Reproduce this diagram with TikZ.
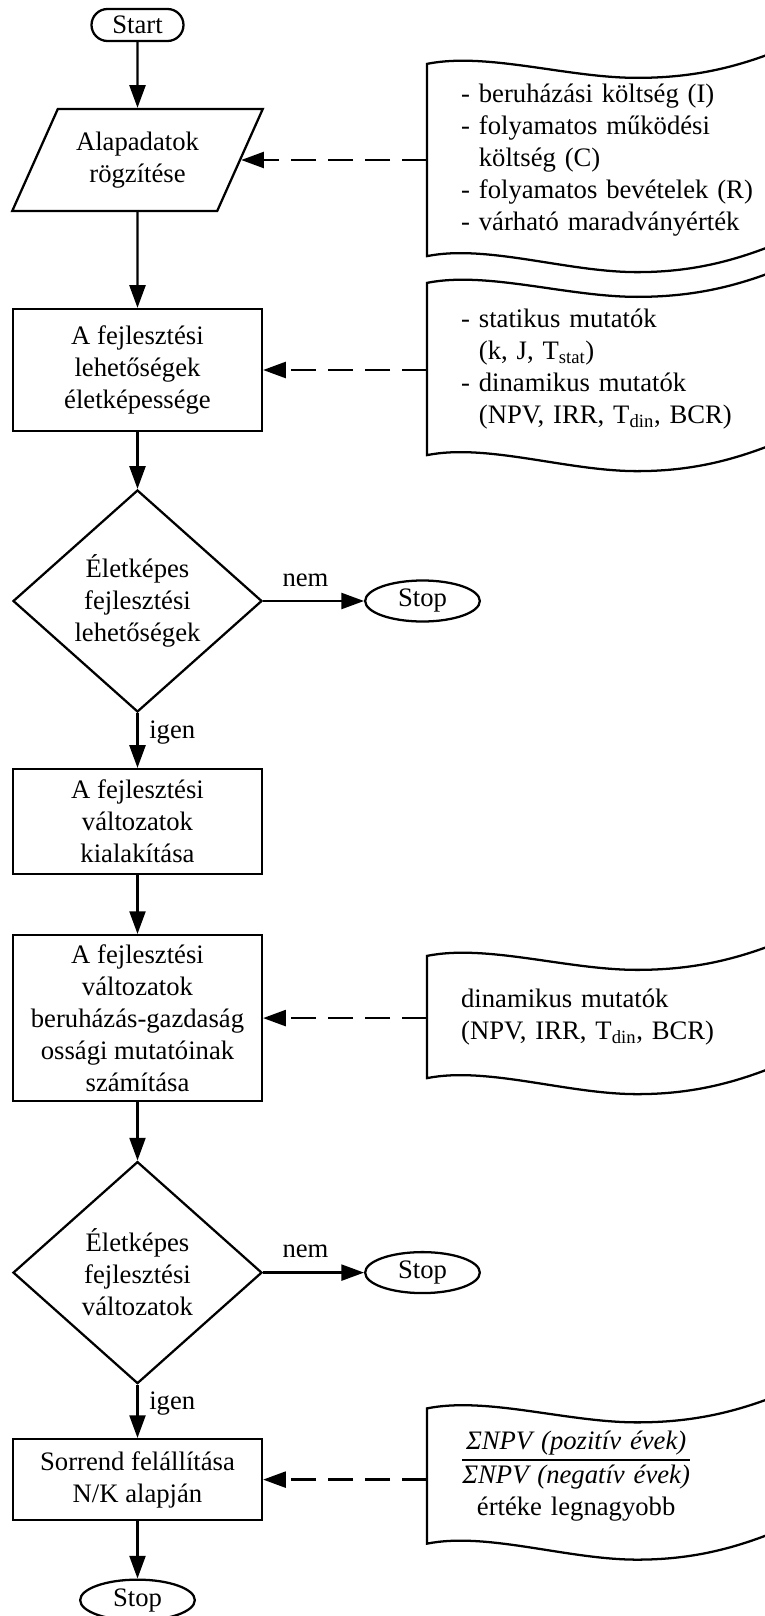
\documentclass[tikz,border=0pt]{standalone}
\usepackage{fontspec}
\setmainfont{Liberation Serif}
\usetikzlibrary{shapes.geometric, arrows.meta, positioning}
\setlength{\arrayrulewidth}{1.4pt}

% wavy outline of a tape node, drawn from its west corners
\newcommand{\tapeborder}[1]{%
  \draw[tapeline] (#1.north west)
    .. controls ([shift={(60,-12)}]#1.north west) and ([shift={(140,14)}]#1.north west) .. ([shift={(210,14)}]#1.north west)
    .. controls ([shift={(280,14)}]#1.north west) and ([shift={(330,-2)}]#1.north west) .. ([shift={(390,-30)}]#1.north west)
    -- ([shift={(390,-30)}]#1.south west)
    .. controls ([shift={(330,-2)}]#1.south west) and ([shift={(280,16)}]#1.south west) .. ([shift={(210,16)}]#1.south west)
    .. controls ([shift={(140,16)}]#1.south west) and ([shift={(60,-12)}]#1.south west) .. (#1.south west)
    -- cycle;}

\begin{document}
\begin{tikzpicture}[x=0.75pt, y=-0.75pt, line width=1.7pt,
    every node/.style = {font=\fontsize{20}{24}\selectfont},
    terminal/.style = {draw, rectangle, rounded corners=12pt, minimum width=69pt, minimum height=24pt, inner sep=0pt},
    stopnode/.style = {draw, ellipse, minimum width=86pt, minimum height=30.75pt, inner sep=0pt},
    io/.style = {draw, trapezium, trapezium left angle=58, trapezium right angle=122, trapezium stretches=true,
                 minimum width=188pt, minimum height=76.5pt, inner sep=0pt, align=center},
    process/.style = {draw, rectangle, minimum width=186.75pt, inner sep=0pt, align=center},
    decision/.style = {draw, diamond, aspect=1.12, minimum width=186.75pt, minimum height=166.5pt, inner sep=0pt, align=center},
    tape/.style = {rectangle, anchor=west, inner xsep=24.75pt, inner ysep=0pt, text width=225pt, align=left},
    tapemid/.style = {tape, text width=172.5pt, align=center},
    tapeline/.style = {line width=1.7pt},
    flow/.style = {-{Triangle[length=17pt, width=12pt]}},
    info/.style = {flow, dash pattern=on 18.75pt off 9pt}]
\useasboundingbox (0,0) rectangle (764,1616);

% main column
\node[terminal] (start) at (137.5,25) {Start};
\node[io, node distance=101.25pt, below of=start] (input) {Alapadatok\\rögzítése};
\node[process, minimum height=91.5pt, node distance=157.5pt, below of=input] (vital) {A fejlesztési\\lehetőségek\\életképessége};
\node[decision, node distance=173.25pt, below of=vital] (dec1) {Életképes\\fejlesztési\\lehetőségek};
\node[stopnode, node distance=213.75pt, right of=dec1] (stop1) {Stop};
\node[process, minimum height=78.75pt, node distance=165.4pt, below of=dec1] (variants) {A fejlesztési\\változatok\\kialakítása};
\node[process, minimum height=124.5pt, node distance=147.4pt, below of=variants] (calc) {A fejlesztési\\változatok\\beruházás-gazdaság\\ossági mutatóinak\\számítása};
\node[decision, node distance=190.9pt, below of=calc] (dec2) {Életképes\\fejlesztési\\változatok};
\node[stopnode, node distance=213.75pt, right of=dec2] (stop2) {Stop};
\node[process, minimum height=60.75pt, node distance=155.25pt, below of=dec2] (rank) {Sorrend felállítása\\N/K alapján};
\node[stopnode, node distance=90.4pt, below of=rank] (stop3) {Stop};

% input data
\node[tape, minimum height=142.5pt] (data1) at (427,160) {- beruházási költség (I)\\- folyamatos működési\\\hphantom{-}\ költség (C)\\- folyamatos bevételek (R)\\- várható maradványérték};
\node[tape, minimum height=127.5pt] (data2) at (427,369) {- statikus mutatók\\\hphantom{-}\ (k, J, T\textsubscript{stat})\\- dinamikus mutatók\\\hphantom{-}\ (NPV, IRR, T\textsubscript{din}, BCR)};
\node[tape, minimum height=90pt] (data3) at (427,1017) {dinamikus mutatók\\(NPV, IRR, T\textsubscript{din}, BCR)};
\node[tapemid, minimum height=99.75pt] (data4) at (427,1476) {\begin{tabular}{@{}c@{}}\itshape ΣNPV (pozitív évek)\\\hline\itshape ΣNPV (negatív évek)\\értéke legnagyobb\end{tabular}};
\tapeborder{data1}
\tapeborder{data2}
\tapeborder{data3}
\tapeborder{data4}

% connectors
\draw[flow] (start) -- (input);
\draw[flow] (input) -- (vital);
\draw[flow] (vital) -- (dec1);
\draw[flow] (dec1) -- node[above=10pt, pos=0.42, inner sep=0pt] (no1) {nem} (stop1);
\draw[flow] (dec1) -- node[right=8pt, pos=0.35, inner sep=0pt] (yes1) {igen} (variants);
\draw[flow] (variants) -- (calc);
\draw[flow] (calc) -- (dec2);
\draw[flow] (dec2) -- node[above=10pt, pos=0.42, inner sep=0pt] (no2) {nem} (stop2);
\draw[flow] (dec2) -- node[right=8pt, pos=0.36, inner sep=0pt] (yes2) {igen} (rank);
\draw[flow] (rank) -- (stop3);

\draw[info] (input.east -| data1.west) -- (input.east);
\draw[info] (vital.east -| data2.west) -- (vital.east);
\draw[info] (calc.east -| data3.west) -- (calc.east);
\draw[info] (rank.east -| data4.west) -- (rank.east);
\end{tikzpicture}
\end{document}
